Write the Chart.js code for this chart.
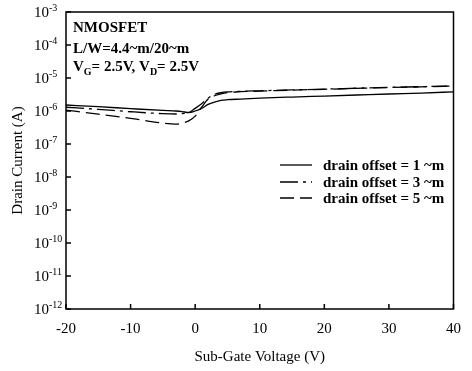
<!DOCTYPE html>
<html>
<head>
<meta charset="utf-8">
<script src="https://cdn.jsdelivr.net/npm/chart.js@4.4.0/dist/chart.umd.min.js"></script>
<style>
  html, body { margin: 0; padding: 0; background: #fff; }
  #chart { display: block; }
</style>
</head>
<body>
<canvas id="chart" width="472" height="371"></canvas>
<script>
// sub-gate voltage sweep (V)
const subGateV = [-20, -15, -10, -5, -3, -2, -1, 0, 1, 2, 3, 4, 5, 7, 10, 15, 20, 25, 30, 35, 40];
// drain current (A) for each drain offset
const offset1um = [1.52e-6, 1.35e-6, 1.18e-6, 1.04e-6, 1.0e-6, 9.6e-7, 9.0e-7, 1.0e-6, 1.2e-6, 1.58e-6, 1.87e-6,
                   2.1e-6, 2.2e-6, 2.3e-6, 2.45e-6, 2.65e-6, 2.84e-6, 3.05e-6, 3.28e-6, 3.5e-6, 3.8e-6];
const offset3um = [1.3e-6, 1.12e-6, 9.5e-7, 8.3e-7, 8.1e-7, 8.4e-7, 8.9e-7, 1.2e-6, 1.66e-6, 2.45e-6, 3.2e-6,
                   3.6e-6, 3.8e-6, 3.95e-6, 4.1e-6, 4.35e-6, 4.6e-6, 4.9e-6, 5.2e-6, 5.45e-6, 5.75e-6];
const offset5um = [1.07e-6, 8.0e-7, 6.0e-7, 4.3e-7, 4.0e-7, 4.3e-7, 5.0e-7, 7.0e-7, 1.3e-6, 2.3e-6, 2.9e-6,
                   3.3e-6, 3.6e-6, 3.85e-6, 4.0e-6, 4.3e-6, 4.55e-6, 4.85e-6, 5.15e-6, 5.4e-6, 5.7e-6];
const seriesLabels = ['drain offset = 1 ~m', 'drain offset = 3 ~m', 'drain offset = 5 ~m'];
const xTicks = [-20, -10, 0, 10, 20, 30, 40];
const yExponents = [-12, -11, -10, -9, -8, -7, -6, -5, -4, -3];

const FONT = 'Liberation Serif';
Chart.defaults.font.family = FONT;
Chart.defaults.color = '#000';

function pts(values) {
  return subGateV.map((v, i) => ({ x: v, y: values[i] }));
}

// frame, inward ticks, 10^n labels, annotation and legend inside the plot
const paperFrame = {
  id: 'paperFrame',
  afterDraw(chart) {
    const { ctx, chartArea: a, scales: { x, y } } = chart;
    ctx.save();
    ctx.strokeStyle = '#000';
    ctx.fillStyle = '#000';
    ctx.lineWidth = 1.5;
    ctx.strokeRect(a.left, a.top, a.right - a.left, a.bottom - a.top);

    ctx.beginPath();
    xTicks.forEach(v => {
      const px = x.getPixelForValue(v);
      ctx.moveTo(px, a.bottom);
      ctx.lineTo(px, a.bottom - 5);
    });
    yExponents.forEach(e => {
      const py = y.getPixelForValue(Math.pow(10, e));
      ctx.moveTo(a.left, py);
      ctx.lineTo(a.left + 5, py);
    });
    ctx.stroke();

    // y tick labels as 10 with superscript
    ctx.textBaseline = 'middle';
    ctx.textAlign = 'left';
    yExponents.forEach(e => {
      const py = y.getPixelForValue(Math.pow(10, e));
      ctx.font = '15px "' + FONT + '"';
      ctx.fillText('10', 34, py + 1);
      const w = ctx.measureText('10').width;
      ctx.font = '10px "' + FONT + '"';
      ctx.fillText(String(e), 34 + w, py - 4);
    });

    // device annotation
    const big = 'bold 15px "' + FONT + '"';
    const sub = 'bold 10px "' + FONT + '"';
    ctx.font = big;
    ctx.fillText('NMOSFET', 73, 28);
    ctx.fillText('L/W=4.4~m/20~m', 73, 49);
    const parts = [['V', big, 0], ['G', sub, 5], ['= 2.5V, V', big, 0], ['D', sub, 5], ['= 2.5V', big, 0]];
    let cx = 73;
    parts.forEach(([t, f, dy]) => {
      ctx.font = f;
      ctx.fillText(t, cx, 67 + dy);
      cx += ctx.measureText(t).width;
    });

    // legend
    const rows = [165, 182, 198];
    chart.data.datasets.forEach((ds, i) => {
      ctx.lineWidth = ds.borderWidth;
      ctx.setLineDash(ds.borderDash || []);
      ctx.beginPath();
      ctx.moveTo(280, rows[i]);
      ctx.lineTo(312, rows[i]);
      ctx.stroke();
      ctx.setLineDash([]);
      ctx.font = big;
      ctx.fillText(ds.label, 323, rows[i] + 1);
    });
    ctx.restore();
  }
};

const ctx = document.getElementById('chart').getContext('2d');
new Chart(ctx, {
  type: 'line',
  data: {
    datasets: [
      { label: seriesLabels[0], data: pts(offset1um), borderDash: [] },
      { label: seriesLabels[1], data: pts(offset3um), borderDash: [18, 5, 3, 5] },
      { label: seriesLabels[2], data: pts(offset5um), borderDash: [14, 6] }
    ].map(ds => Object.assign(ds, {
      borderColor: '#000',
      borderWidth: 1.3,
      pointRadius: 0,
      fill: false,
      cubicInterpolationMode: 'monotone'
    }))
  },
  options: {
    responsive: false,
    animation: false,
    devicePixelRatio: 1,
    layout: { padding: { top: 12, right: 10, left: 0, bottom: 0 } },
    plugins: { legend: { display: false }, tooltip: { enabled: false } },
    scales: {
      x: {
        type: 'linear',
        min: -20,
        max: 40,
        afterBuildTicks: s => { s.ticks = xTicks.map(v => ({ value: v })); },
        afterFit: s => { s.height = 62; },
        grid: { display: false, drawTicks: false },
        border: { display: false },
        ticks: { font: { size: 15 }, padding: 11, maxRotation: 0 },
        title: { display: true, text: 'Sub-Gate Voltage (V)', font: { size: 15 }, padding: { top: 0, bottom: 5 } }
      },
      y: {
        type: 'logarithmic',
        min: 1e-12,
        max: 1e-3,
        afterFit: s => { s.width = 66; },
        grid: { display: false, drawTicks: false },
        border: { display: false },
        ticks: { display: false },
        title: { display: true, text: 'Drain Current (A)', font: { size: 15 }, padding: { top: 9, bottom: 0 } }
      }
    }
  },
  plugins: [paperFrame]
});
</script>
</body>
</html>
